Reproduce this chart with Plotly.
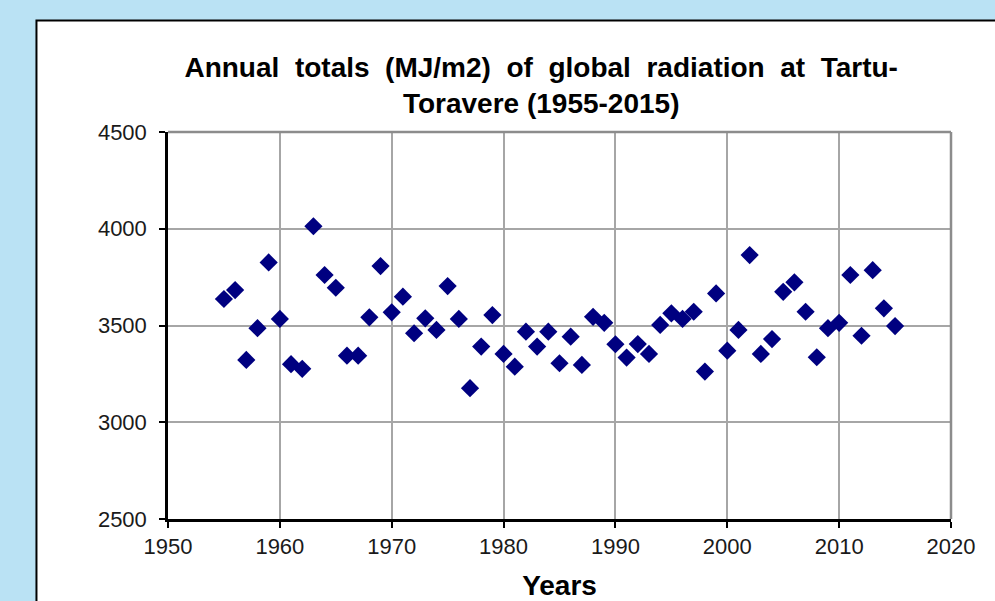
import plotly.graph_objects as go

years = list(range(1955, 2016))
radiation = [
    3637, 3683, 3322, 3486, 3826, 3534, 3300, 3276, 4013, 3761,
    3695, 3344, 3344, 3542, 3807, 3568, 3649, 3460, 3537, 3477,
    3704, 3534, 3176, 3391, 3554, 3353, 3287, 3468, 3391, 3468,
    3305, 3442, 3296, 3545, 3514, 3403, 3334, 3404, 3353, 3503,
    3563, 3534, 3571, 3262, 3666, 3370, 3477, 3864, 3353, 3430,
    3674, 3723, 3571, 3336, 3486, 3514, 3761, 3447, 3786, 3589,
    3497,
]
x_ticks = [1950, 1960, 1970, 1980, 1990, 2000, 2010, 2020]
y_ticks = [2500, 3000, 3500, 4000, 4500]

title_text = ("Annual  totals  (MJ/m2)  of  global  radiation  at  Tartu-"
              "<br>Toravere (1955-2015)")
x_title = "Years"

W, H = 995, 601
L, R, T, B = 167.6, 951.0, 131.7, 519.3

def px_to_paper_x(px):
    return (px - L) / (R - L)

def px_to_paper_y(py):
    return (B - py) / (B - T)

fig = go.Figure()
fig.add_trace(go.Scatter(
    x=years, y=radiation, mode="markers",
    marker=dict(symbol="diamond", size=14, color="#000080", line=dict(width=0)),
    showlegend=False, hoverinfo="x+y",
))

shapes = [
    # white panel with black border
    dict(type="rect", xref="paper", yref="paper", layer="below",
         x0=px_to_paper_x(36), x1=px_to_paper_x(1100),
         y0=px_to_paper_y(700), y1=px_to_paper_y(20),
         fillcolor="white", line=dict(color="black", width=2)),
    # gray plot-area frame (top/right)
    dict(type="line", xref="paper", yref="paper", x0=0, x1=1, y0=1, y1=1,
         line=dict(color="#8c8c8c", width=2.5)),
    dict(type="line", xref="paper", yref="paper", x0=1, x1=1, y0=0, y1=1,
         line=dict(color="#8c8c8c", width=2.5)),
]

fig.update_layout(
    width=W, height=H,
    margin=dict(l=L, r=W - R, t=T, b=H - B, pad=0, autoexpand=False),
    paper_bgcolor="#BAE2F4",
    plot_bgcolor="white",
    shapes=shapes,
    font=dict(family="Liberation Sans, Arial, sans-serif", color="#1a1a1a"),
    title=dict(
        text=title_text,
        font=dict(size=28, family="Liberation Sans, Arial, sans-serif", color="black", weight="bold"),
        x=px_to_paper_x(541), xref="paper", xanchor="center",
        y=1 - 77 / H, yref="container", yanchor="middle",
    ),
    xaxis=dict(
        range=[1950, 2020], tickvals=x_ticks, ticktext=[str(v) for v in x_ticks],
        showgrid=True, gridcolor="#a6a6a6", gridwidth=1.5,
        showline=True, linecolor="black", linewidth=2.5,
        ticks="outside", ticklen=6, tickwidth=1.5, tickcolor="black",
        tickfont=dict(size=22, color="#1a1a1a"),
        zeroline=False, automargin=False,
        title=dict(text=x_title, font=dict(size=28, color="black", weight="bold"), standoff=18),
        fixedrange=True,
    ),
    yaxis=dict(
        range=[2500, 4500], tickvals=y_ticks, ticktext=[str(v) for v in y_ticks],
        showgrid=True, gridcolor="#a6a6a6", gridwidth=1.5,
        showline=True, linecolor="black", linewidth=2.5,
        ticks="outside", ticklen=6, tickwidth=1.5, tickcolor="black",
        tickfont=dict(size=22, color="#1a1a1a"), ticklabelstandoff=8,
        zeroline=False, fixedrange=True, automargin=False,
    ),
)

fig.write_html(
    "out.html",
    config={"displayModeBar": False},
    post_script="document.body.style.margin='0';document.body.style.overflow='hidden';",
)
